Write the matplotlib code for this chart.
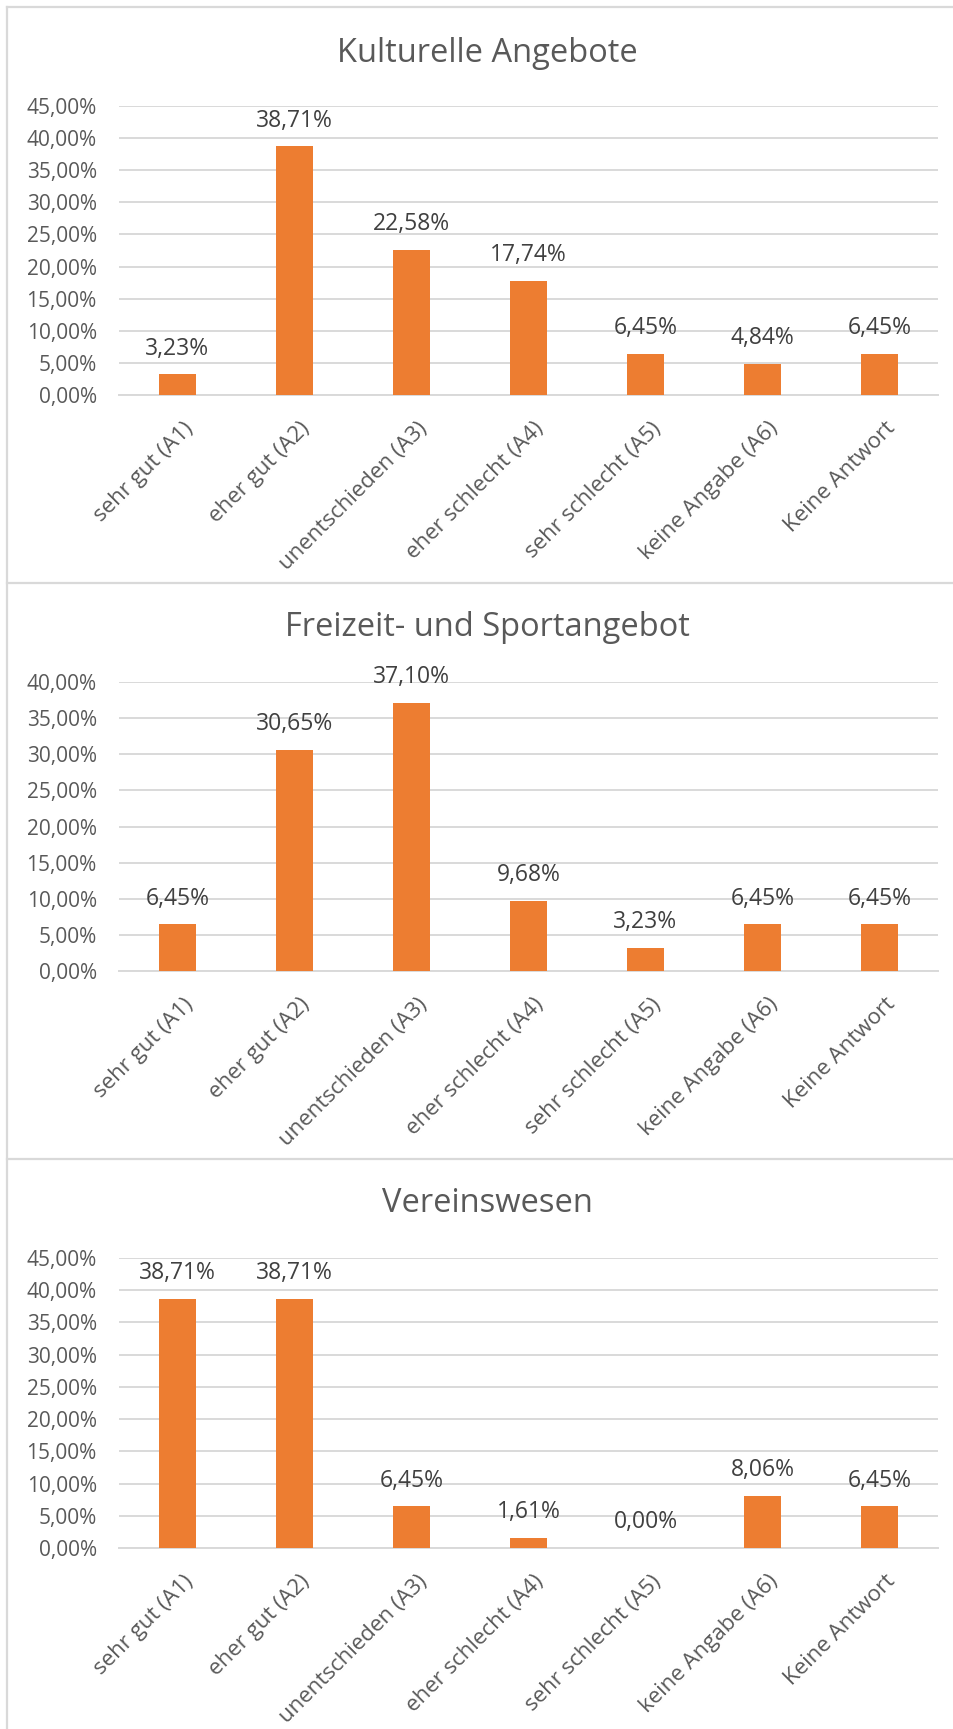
import matplotlib
matplotlib.use("Agg")
import matplotlib.pyplot as plt
from matplotlib.lines import Line2D
from matplotlib.transforms import ScaledTranslation
from matplotlib.ticker import FuncFormatter, MultipleLocator

plt.rcParams['font.family'] = ['Open Sans', 'DejaVu Sans']

categories = ["sehr gut (A1)", "eher gut (A2)", "unentschieden (A3)",
              "eher schlecht (A4)", "sehr schlecht (A5)", "keine Angabe (A6)",
              "Keine Antwort"]

titles = ["Kulturelle Angebote", "Freizeit- und Sportangebot", "Vereinswesen"]

kultur = [3.23, 38.71, 22.58, 17.74, 6.45, 4.84, 6.45]
freizeit = [6.45, 30.65, 37.10, 9.68, 3.23, 6.45, 6.45]
verein = [38.71, 38.71, 6.45, 1.61, 0.00, 8.06, 6.45]
series = [kultur, freizeit, verein]
ymax = [45, 40, 45]

W, H = 954, 1729
fig = plt.figure(figsize=(W / 100, H / 100), dpi=100)
fig.patch.set_facecolor("white")

BAR = "#ED7D31"
GRID = "#D9D9D9"
TICKC = "#595959"
LABC = "#404040"

# panel geometry in pixels: (top gridline y, zero line y, title y)
panels = [(106, 395, 53), (682, 971, 628), (1258, 1548, 1203)]
x_left, x_right = 119, 938

def pct(v, pos=None):
    return f"{v:.2f}".replace(".", ",") + "%"

for k in range(3):
    top, zero, ty = panels[k]
    ax = fig.add_axes([x_left / W, 1 - zero / H, (x_right - x_left) / W, (zero - top) / H])
    vals = series[k]
    x = list(range(len(categories)))
    ax.bar(x, vals, width=0.31, color=BAR, zorder=3)
    ax.set_xlim(-0.5, len(categories) - 0.5)
    ax.set_ylim(0, ymax[k])
    ax.yaxis.set_major_locator(MultipleLocator(5))
    ax.yaxis.set_major_formatter(FuncFormatter(pct))
    ax.grid(axis="y", color=GRID, linewidth=1.4, zorder=0)
    for s in ["top", "right", "left"]:
        ax.spines[s].set_visible(False)
    ax.spines["bottom"].set_color(GRID)
    ax.spines["bottom"].set_linewidth(1.4)
    ax.tick_params(axis="y", length=0, pad=16, labelsize=15, labelcolor=TICKC)
    ax.tick_params(axis="x", length=0)
    ax.set_xticks(x)
    ax.set_xticklabels([])
    for i, lab in enumerate(categories):
        tr = ax.get_xaxis_transform() + ScaledTranslation(0.05, -0.23, fig.dpi_scale_trans)
        ax.text(i, 0, lab, transform=tr, rotation=45, rotation_mode="anchor",
                ha="right", va="top", fontsize=16, color=TICKC)
    for i, v in enumerate(vals):
        ax.annotate(pct(v), (i, v), xytext=(0, 18.5), textcoords="offset points",
                    ha="center", va="center", fontsize=16.5, color=LABC)
    fig.text(487 / W, 1 - ty / H, titles[k], ha="center", va="center",
             fontsize=23.5, color=TICKC)

# panel borders
def hline(y):
    fig.add_artist(Line2D([7 / W, 1], [1 - y / H, 1 - y / H], color=GRID, linewidth=1.6))
hline(7)
hline(583)
hline(1159)
fig.add_artist(Line2D([7 / W, 7 / W], [1 - 7 / H, 0], color=GRID, linewidth=1.6))

fig.savefig("out.png", dpi=100, facecolor="white")
